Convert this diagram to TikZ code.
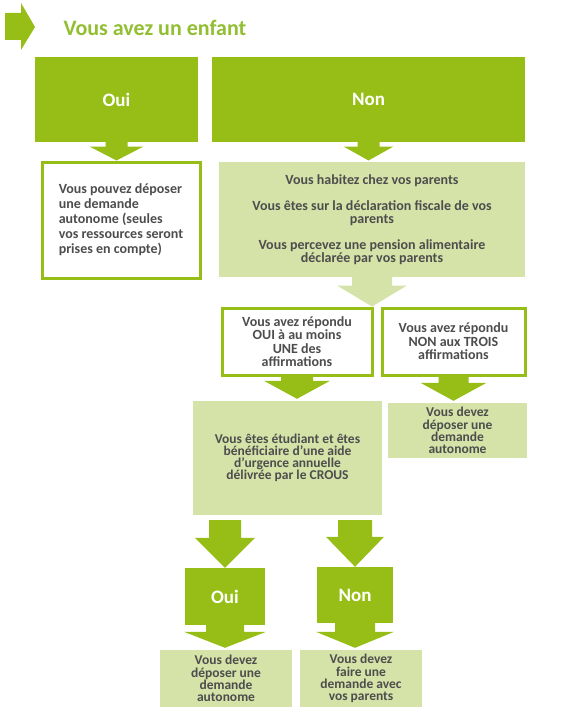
\documentclass[tikz,border=0pt]{standalone}
\usepackage{fontspec}
\setmainfont{Carlito}
\usepackage{tikz}
\usetikzlibrary{
  calc,       % 坐标计算
  positioning,% 节点相对定位
  shadows     % 白框阴影
}

\definecolor{vert}{RGB}{150,190,22}
\definecolor{vertclair}{RGB}{213,226,168}
\definecolor{titre}{RGB}{146,190,50}
\definecolor{gris}{RGB}{77,77,77}

\tikzset{
  boite/.style={fill=vert, text=white, inner sep=0pt,
    font=\bfseries\fontsize{19}{21}\selectfont},
  clair/.style={fill=vertclair, text=gris, inner sep=0pt, align=center,
    font=\bfseries\fontsize{14}{13}\selectfont},
  serre/.style={font=\bfseries\fontsize{13.5}{12.2}\selectfont},
  cadre/.style={draw=vert, line width=3pt, fill=white, text=gris,
    inner sep=0pt, align=center, font=\bfseries\fontsize{14}{13.5}\selectfont,
    drop shadow={shadow xshift=2pt, shadow yshift=-2pt, opacity=0.3}}
}

% 块状箭头：[颜色]{起点}{终点}{杆半宽}{头半宽}{头长}
\newcommand{\fleche}[6][vert]{%
  \fill[#1] ($(#2)+(-#4,0)$) -- ($(#3)+(-#4,-#6)$) -- ($(#3)+(-#5,-#6)$)
    -- (#3) -- ($(#3)+(#5,-#6)$) -- ($(#3)+(#4,-#6)$) -- ($(#2)+(#4,0)$) -- cycle;}

\begin{document}
\begin{tikzpicture}[x=1pt, y=-1pt]
  \useasboundingbox (0,0) rectangle (573,725);

  % ===== 标题 =====
  \fill[vert] (5,13) -- (21,13) -- (21,3) -- (35,27) -- (21,50) -- (21,40)
    -- (5,40) -- cycle;
  \node[anchor=west, text=titre, font=\bfseries\fontsize{22}{24}\selectfont]
    (titre) at (60,28) {Vous avez un enfant};

  % ===== 第一层 =====
  \node[boite, minimum width=163, minimum height=85] (oui) at (116.5,99.5) {Oui};
  \node[boite, minimum width=313, minimum height=85] (non) at (368.5,99.5) {Non};

  \node[cadre, minimum width=158, minimum height=116, align=left,
    font=\bfseries\fontsize{14}{15}\selectfont] (seul)
    at (121,220) {Vous pouvez déposer\\une demande\\autonome (seules\\
    vos ressources seront\\prises en compte)};
  \node[clair, minimum width=306, minimum height=115] (affirm) at (372,219.5)
    {Vous habitez chez vos parents\\[13pt]
     Vous êtes sur la déclaration fiscale de vos\\parents\\[13pt]
     Vous percevez une pension alimentaire\\déclarée par vos parents};

  % ===== 第二层 =====
  \node[cadre, minimum width=150, minimum height=67] (repoui) at (297,341.5)
    {Vous avez répondu\\OUI à au moins\\UNE des\\affirmations};
  \node[cadre, minimum width=143, minimum height=67] (repnon) at (453.5,341.5)
    {Vous avez répondu\\NON aux TROIS\\affirmations};

  \node[clair, serre, minimum width=189, minimum height=114] (etud)
    at (287.5,458) {Vous êtes étudiant et êtes\\bénéficiaire d’une aide\\
     d’urgence annuelle\\délivrée par le CROUS};
  \node[clair, serre, minimum width=139, minimum height=55] (auto1)
    at (457.5,430.5) {Vous devez\\déposer une\\demande\\autonome};

  % ===== 第三层 =====
  \node[boite, minimum width=80, minimum height=57] (oui2) at (225,596.5) {Oui};
  \node[boite, minimum width=76, minimum height=56] (non2) at (355,595) {Non};

  \node[clair, serre, minimum width=132, minimum height=57] (auto2)
    at (226,678.5) {Vous devez\\déposer une\\demande\\autonome};
  \node[clair, serre, minimum width=122, minimum height=57] (parents)
    at (361,678.5) {Vous devez\\faire une\\demande avec\\vos parents};

  % ===== 箭头 =====
  \coordinate (t1) at (oui.south |- seul.north);
  \fleche{oui.south}{t1}{11}{27}{14}
  \coordinate (t2) at (non.south |- seul.north);
  \fleche{non.south}{t2}{11}{25}{14}
  \coordinate (t3) at (affirm.south |- repoui.north);
  \fleche[vertclair]{affirm.south}{t3}{20}{35}{21}
  \coordinate (t4) at ([yshift=2pt]repoui.south |- etud.north);
  \fleche{repoui.south}{t4}{16}{33}{18}
  \coordinate (t5) at ([yshift=2pt]repnon.south |- auto1.north);
  \fleche{repnon.south}{t5}{15}{33}{18}

  \coordinate (d6) at ([yshift=-5pt]etud.south -| oui2.north);
  \fleche{d6}{oui2.north}{16}{30}{30}
  \coordinate (d7) at ([yshift=-5pt]etud.south -| non2.north);
  \fleche{d7}{non2.north}{17}{29}{30}

  \coordinate (t8) at ([yshift=2pt]oui2.south |- auto2.north);
  \fleche{oui2.south}{t8}{19}{41}{16}
  \coordinate (t9) at ([yshift=2pt]non2.south |- parents.north);
  \fleche{non2.south}{t9}{20}{39}{16}
\end{tikzpicture}
\end{document}
